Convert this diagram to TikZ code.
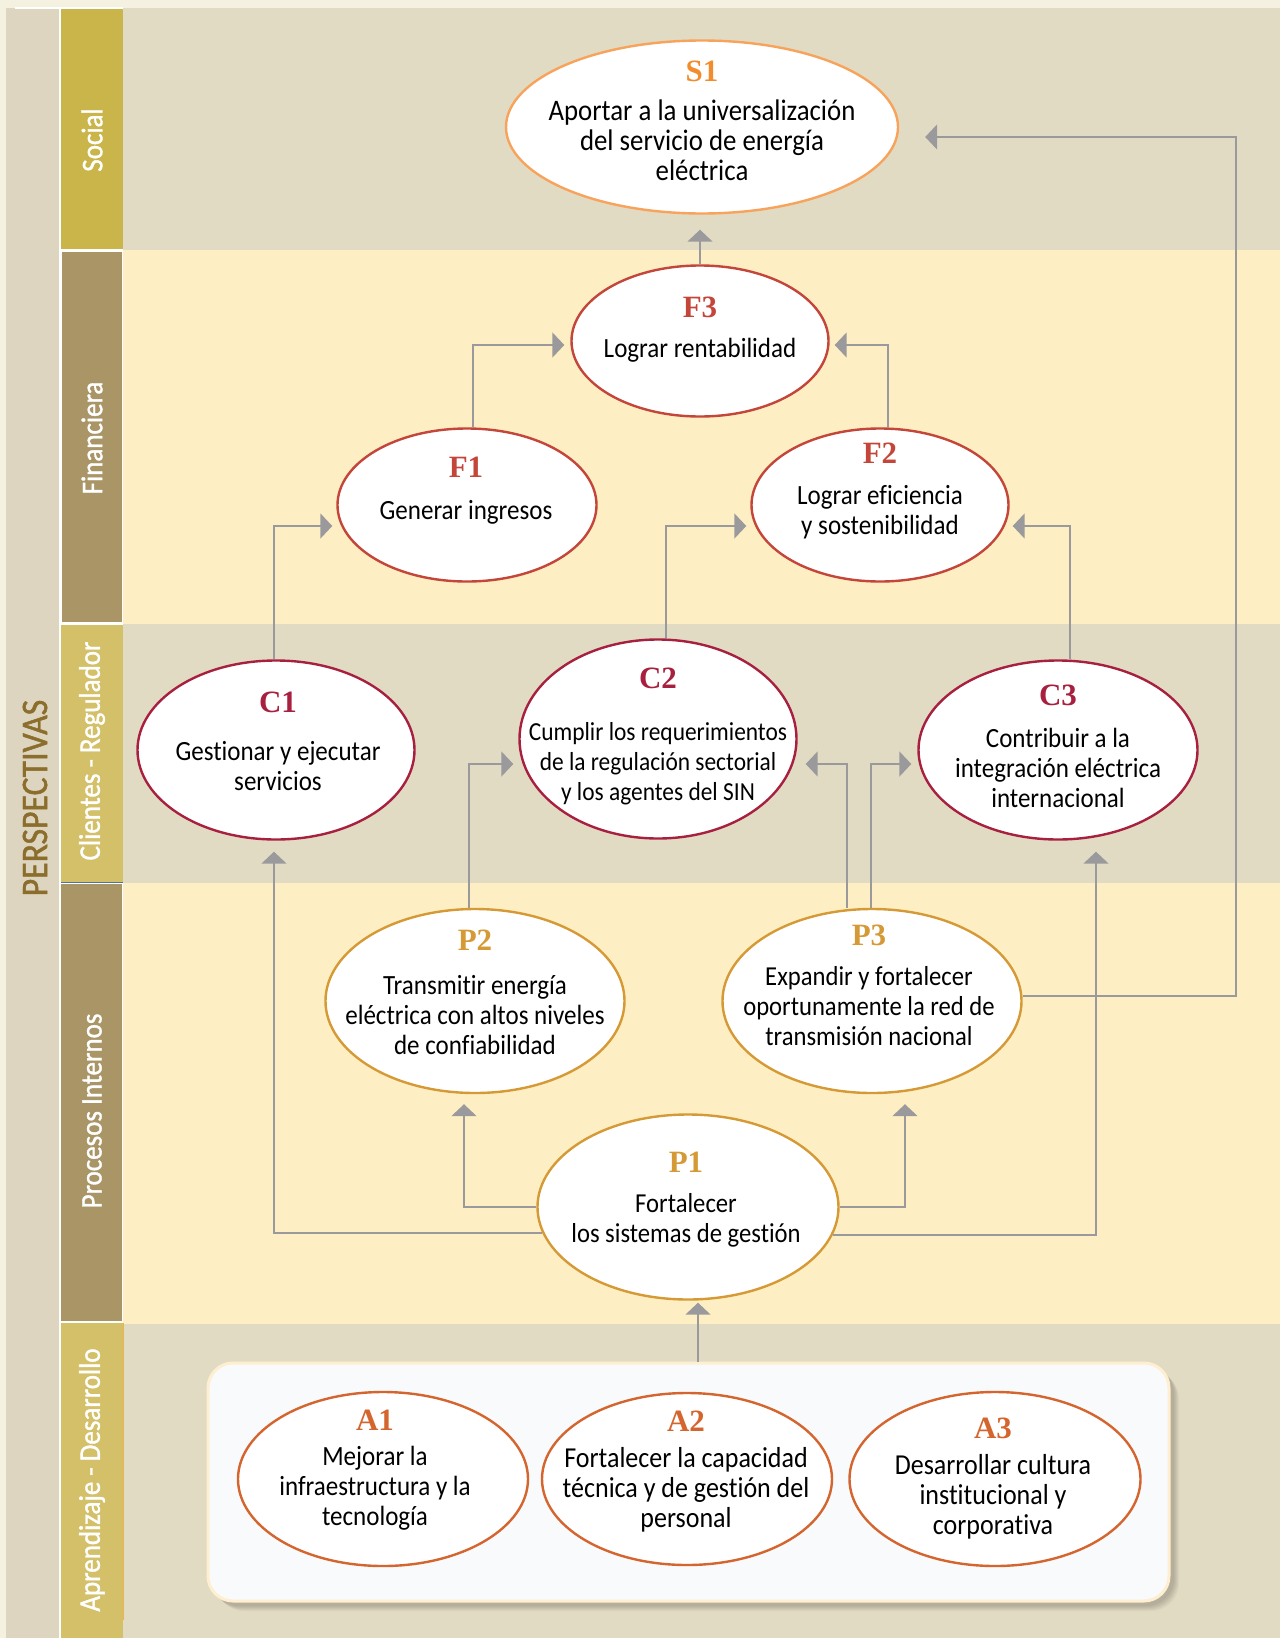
\documentclass[tikz,border=0pt]{standalone}
\usepackage{fontspec}
\setmainfont{Carlito}[FakeStretch=0.9, Ligatures=NoCommon]
\newfontfamily\bandfont{Carlito}[FakeStretch=0.9, FakeBold=1.2]
\newfontfamily\labfont{Liberation Serif}
\usetikzlibrary{arrows.meta,shapes.geometric}
\definecolor{outer}{HTML}{F5F1E0}
\definecolor{leftcol}{HTML}{DDD5BF}
\definecolor{bandA}{HTML}{E2DBC3}
\definecolor{bandB}{HTML}{FEEEC3}
\definecolor{labSoc}{HTML}{CAB54A}
\definecolor{labDark}{HTML}{A99566}
\definecolor{labLight}{HTML}{D3C068}
\definecolor{persp}{HTML}{8B6D2C}
\definecolor{cS}{HTML}{F7A35C}
\definecolor{cSl}{HTML}{F28C2D}
\definecolor{cF}{HTML}{C4453A}
\definecolor{cC}{HTML}{A8203F}
\definecolor{cP}{HTML}{D59A35}
\definecolor{cA}{HTML}{D5652E}
\definecolor{conn}{HTML}{9A9A9C}
\definecolor{aboxfill}{HTML}{F9FAFC}
\definecolor{aboxline}{HTML}{FDEFD0}
\newcommand\olab[2]{{\color{#1}\labfont\bfseries\fontsize{31}{30}\selectfont #2}}
\newcommand\fsz[1]{\fontsize{#1}{30}\selectfont}
\tikzset{
  ell/.style={ellipse, line width=2.4pt, fill=white, inner sep=0pt},
  txt/.style={align=center, inner sep=0pt, text=black, font=\fsz{27.8}},
  bandlab/.style={rotate=90, text=white, inner sep=0pt, font=\bandfont\fontsize{30}{30}\selectfont},
  arr/.style={draw=conn, line width=2pt, -{Triangle[width=25pt,length=12pt]}},
}
\begin{document}
\begin{tikzpicture}[x=1pt,y=-1pt]
\useasboundingbox (0,0) rectangle (1280,1638);
% backgrounds
\fill[outer] (0,0) rectangle (1280,1638);
\fill[leftcol] (6,8) rectangle (59,1638);
\fill[white] (15,7) rectangle (123,9);
\fill[white] (59,8) rectangle (123,1638);
\fill[bandA] (123,8) rectangle (1280,250);
\fill[bandB] (123,250) rectangle (1280,624);
\fill[bandA] (123,624) rectangle (1280,883);
\fill[bandB] (123,883) rectangle (1280,1324);
\fill[bandA] (123,1324) rectangle (1280,1638);
% label boxes
\fill[labSoc] (61,9) rectangle (123,249);
\fill[labDark] (62,252) rectangle (122,622);
\fill[labLight] (61,625) rectangle (123,882);
\draw[color={rgb,255:red,78;green,117;blue,144}, line width=1.5pt] (61,882.5) -- (123,882.5);
\fill[labDark] (61,884) rectangle (122,1321);
\fill[labLight] (61,1323) rectangle (123,1638);
\draw[color={rgb,255:red,235;green,181;blue,72}, line width=1pt] (123,1323) -- (123,1620);
\node[bandlab] (lsoc) at (92,140) {Social};
\node[bandlab] (lfin) at (92,438) {Financiera};
\node[bandlab] (lcli) at (92,751) {Clientes - Regulador};
\node[bandlab] (lpro) at (92,1111) {Procesos Internos};
\node[bandlab] (lapr) at (92,1480) {Aprendizaje - Desarrollo};
\node[rotate=90, text=persp, inner sep=0pt, font=\bandfont\fontsize{37.5}{37.5}\selectfont] (persp) at (35,798) {PERSPECTIVAS};
% A box with shadow
\foreach \k in {1,...,6} {
  \fill[black, opacity=0.035, rounded corners=28pt] (208+2+\k,1363+2+\k) rectangle (1169+4+\k,1601+4+\k);
}
\node[draw=aboxline, fill=aboxfill, line width=3pt, rounded corners=25pt, minimum width=961pt, minimum height=238pt, inner sep=0pt] (abox) at (688.5,1482) {};
% ellipses
\node[ell, draw=cS, minimum width=392pt, minimum height=173pt] (s1) at (702,127) {};
\node[ell, draw=cF, minimum width=257pt, minimum height=151pt] (f3) at (700,341) {};
\node[ell, draw=cF, minimum width=259pt, minimum height=153pt] (f1) at (467,505) {};
\node[ell, draw=cF, minimum width=257pt, minimum height=153pt] (f2) at (880,505) {};
\node[ell, draw=cC, minimum width=277pt, minimum height=179pt] (c1) at (276,750) {};
\node[ell, draw=cC, minimum width=277pt, minimum height=199pt] (c2) at (658,739) {};
\node[ell, draw=cC, minimum width=279pt, minimum height=179pt] (c3) at (1058,750) {};
\node[ell, draw=cP, minimum width=299pt, minimum height=184pt] (p2) at (475,1001) {};
\node[ell, draw=cP, minimum width=299pt, minimum height=184pt] (p3) at (872,1001) {};
\node[ell, draw=cP, minimum width=301pt, minimum height=185pt] (p1) at (688,1207) {};
\node[ell, draw=cA, minimum width=290pt, minimum height=174pt] (a1) at (383,1479) {};
\node[ell, draw=cA, minimum width=290pt, minimum height=172pt] (a2) at (687,1479) {};
\node[ell, draw=cA, minimum width=291pt, minimum height=174pt] (a3) at (995,1479) {};
% texts
\node[txt, font=\fsz{29.8}] (s1t) at (702,120.5) {\olab{cSl}{S1}\\[9pt]Aportar a la universalización\\del servicio de energía\\eléctrica};
\node[txt] (f3t) at (700,330) {\olab{cF}{F3}\\[10pt]Lograr rentabilidad};
\node[txt] (f1t) at (466,491) {\olab{cF}{F1}\\[12pt]Generar ingresos};
\node[txt] (f2t) at (880,490.5) {\olab{cF}{F2}\\[11pt]Lograr eficiencia\\y sostenibilidad};
\node[txt] (c1t) at (278,741.5) {\olab{cC}{C1}\\[18pt]Gestionar y ejecutar\\servicios};
\node[txt, font=\fsz{26}] (c2t) at (658,736.5) {\olab{cC}{C2}\\[22pt]Cumplir los requerimientos\\de la regulación sectorial\\y los agentes del SIN};
\node[txt] (c3t) at (1058,746.5) {\olab{cC}{C3}\\[12pt]Contribuir a la\\integración eléctrica\\internacional};
\node[txt] (p2t) at (475,992.5) {\olab{cP}{P2}\\[14pt]Transmitir energía\\eléctrica con altos niveles\\de confiabilidad};
\node[txt, font=\fsz{27.4}] (p3t) at (869,985.5) {\olab{cP}{P3}\\[10pt]Expandir y fortalecer\\oportunamente la red de\\transmisión nacional};
\node[txt, font=\fsz{27.4}] (p1t) at (686,1200) {\olab{cP}{P1}\\[10pt]Fortalecer\\los sistemas de gestión};
\node[txt] (a1t) at (375,1470) {\olab{cA}{A1}\\[5pt]Mejorar la\\infraestructura y la\\tecnología};
\node[txt, font=\fsz{28.9}] (a2t) at (686,1472) {\olab{cA}{A2}\\[6pt]Fortalecer la capacidad\\técnica y de gestión del\\personal};
\node[txt, font=\fsz{28.9}] (a3t) at (993,1479) {\olab{cA}{A3}\\[6pt]Desarrollar cultura\\institucional y\\corporativa};
% connectors
\draw[arr, shorten >=15pt] (f3.north) -- (f3.north |- s1.south);
\draw[arr] ([xshift=6pt]f1.north) |- ([xshift=-6pt,yshift=-4pt]f3.west);
\draw[arr] ([xshift=8pt]f2.north) |- ([xshift=5pt,yshift=-4pt]f3.east);
\draw[arr] ([xshift=-2pt]c1.north) |- ([xshift=-4pt,yshift=-21pt]f1.west);
\draw[arr] ([xshift=8pt]c2.north) |- ([xshift=-4pt,yshift=-21pt]f2.west);
\draw[arr] ([xshift=12pt]c3.north) |- ([xshift=3pt,yshift=-21pt]f2.east);
\coordinate (rbend) at (1236,137);
\draw[arr] ([yshift=5pt]p3.east) -| (rbend) -- ([xshift=26pt,yshift=-10pt]s1.east);
\draw[arr] ([xshift=-6pt]p2.north) |- ([xshift=-5pt,yshift=-25pt]c2.west);
\draw[arr] ([xshift=-25pt]p3.north) |- ([xshift=8pt,yshift=-25pt]c2.east);
\draw[arr] ([xshift=-1pt]p3.north) |- ([xshift=-6pt,yshift=-14pt]c3.west);
\draw[arr] (p1.west) -| ([xshift=-11pt,yshift=-10pt]p2.south);
\draw[arr] (p1.east) -| ([xshift=33pt,yshift=-10pt]p3.south);
\draw[arr] (p1.190.6) -| ([xshift=-2pt,yshift=-11pt]c1.south);
\draw[arr] (p1.349.4) -| ([xshift=38pt,yshift=-11pt]c3.south);
\draw[arr] ([xshift=9.5pt]abox.north) -- ([xshift=10pt,yshift=-2pt]p1.south);
\end{tikzpicture}
\end{document}
